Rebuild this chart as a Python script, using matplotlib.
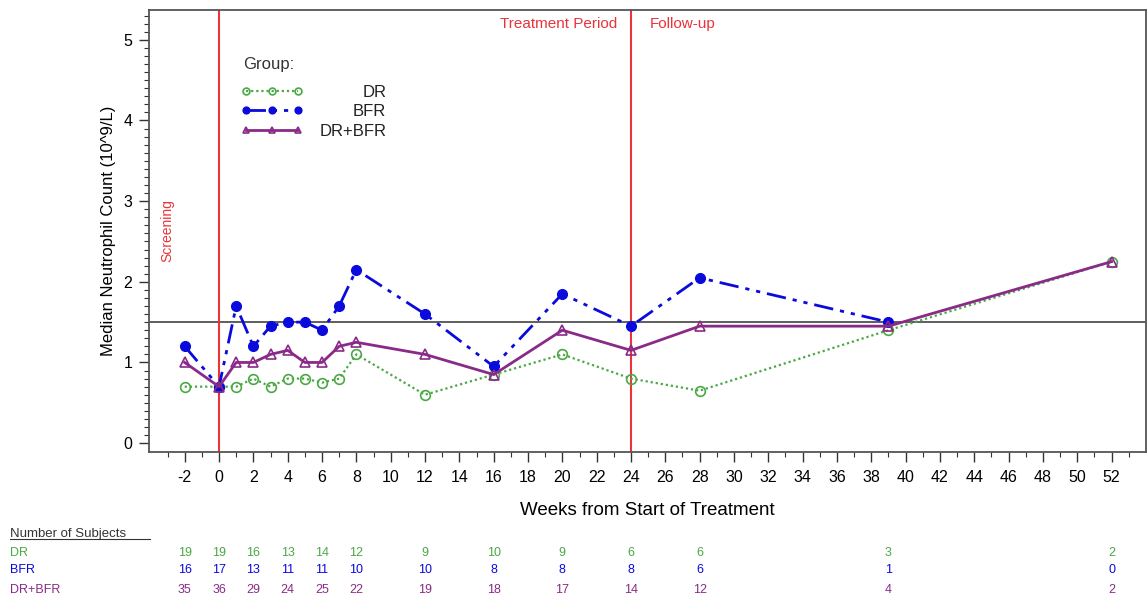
import matplotlib
matplotlib.use("Agg")
import matplotlib.pyplot as plt
import matplotlib.transforms as mtransforms
from matplotlib.lines import Line2D
import numpy as np

plt.rcParams['font.family'] = ['Liberation Sans', 'DejaVu Sans']
plt.rcParams['axes.unicode_minus'] = False

# Median neutrophil count per visit (10^9/L)
weeks = [-2, 0, 1, 2, 3, 4, 5, 6, 7, 8, 12, 16, 20, 24, 28, 39, 52]
dr = [0.7, 0.7, 0.7, 0.8, 0.7, 0.8, 0.8, 0.75, 0.8, 1.1, 0.6, 0.85, 1.1, 0.8, 0.65, 1.4, 2.25]
bfr = [1.2, 0.7, 1.7, 1.2, 1.45, 1.5, 1.5, 1.4, 1.7, 2.15, 1.6, 0.95, 1.85, 1.45, 2.05, 1.5, np.nan]
dr_bfr = [1.0, 0.7, 1.0, 1.0, 1.1, 1.15, 1.0, 1.0, 1.2, 1.25, 1.1, 0.85, 1.4, 1.15, 1.45, 1.45, 2.25]

# Number of subjects table
n_weeks = [-2, 0, 2, 4, 6, 8, 12, 16, 20, 24, 28, 39, 52]
n_dr = [19, 19, 16, 13, 14, 12, 9, 10, 9, 6, 6, 3, 2]
n_bfr = [16, 17, 13, 11, 11, 10, 10, 8, 8, 8, 6, 1, 0]
n_dr_bfr = [35, 36, 29, 24, 25, 22, 19, 18, 17, 14, 12, 4, 2]

c_dr = "#4aa845"
c_bfr = "#0a0adc"
c_both = "#8a2a88"
c_red = "#e8343a"

fig = plt.figure(figsize=(11.47, 5.99), dpi=100)
ax = fig.add_axes([0.1299, 0.2454, 0.8692, 0.738])

l1, = ax.plot(weeks, dr, color=c_dr, linestyle=(0, (1, 1.3)), linewidth=1.6,
              marker="o", markersize=7, mfc="none", mec=c_dr, mew=1.2, label="DR")
l2, = ax.plot(weeks, bfr, color=c_bfr, linestyle=(0, (7, 2.5, 1.5, 2.5, 1.5, 2.5)), linewidth=2,
              marker="o", markersize=7, mfc=c_bfr, mec=c_bfr, label="BFR")
l3, = ax.plot(weeks, dr_bfr, color=c_both, linestyle="-", linewidth=2,
              marker="^", markersize=7, mfc="none", mec=c_both, mew=1.2, label="DR+BFR")

ax.axhline(1.5, color="#333333", linewidth=1.1, zorder=1)
ax.axvline(0, color=c_red, linewidth=1.5, zorder=1)
ax.axvline(24, color=c_red, linewidth=1.5, zorder=1)

ax.text(23.2, 5.2, "Treatment Period", color=c_red, fontsize=11, ha="right", va="center")
ax.text(25.1, 5.2, "Follow-up", color=c_red, fontsize=11, ha="left", va="center")
ax.text(-3.0, 2.64, "Screening", color=c_red, fontsize=10, rotation=90, ha="center", va="center")

ax.set_xlim(-4.08, 54.0)
ax.set_ylim(-0.11, 5.37)
ax.set_xticks(range(-2, 53, 2))
ax.set_xticks(range(-3, 54, 1), minor=True)
ax.set_yticks(range(0, 6))
ax.set_yticks(np.arange(0, 5.35, 0.1), minor=True)
ax.tick_params(axis="both", which="major", length=7, width=1, labelsize=11.5, color="#333333")
ax.tick_params(axis="both", which="minor", length=3.5, width=0.8, color="#333333")
ax.tick_params(axis="x", which="major", pad=6)
ax.tick_params(axis="y", which="major", pad=5)
for s in ax.spines.values():
    s.set_color("#555555")
    s.set_linewidth(1.3)

ax.set_xlabel("Weeks from Start of Treatment", fontsize=13.5, labelpad=12)
ax.set_ylabel("Median Neutrophil Count (10^9/L)", fontsize=12, labelpad=5)

# legend: handles from matplotlib, labels right-aligned like the SAS output
ax.text(0.094, 0.894, "Group:", transform=ax.transAxes, fontsize=12, ha="left", va="top", color="#333333")
leg = ax.legend(handles=[l1, l2, l3], loc="upper left", bbox_to_anchor=(0.0923, 0.831),
                frameon=False, borderpad=0, borderaxespad=0, numpoints=3, markerscale=0.7,
                handlelength=3.7, handletextpad=1.0, labelspacing=0.28, fontsize=12)
fig.canvas.draw()
inv = fig.transFigure.inverted()
boxes = [t.get_window_extent() for t in leg.get_texts()]
right = max(b.x1 for b in boxes)
for t, b in zip(leg.get_texts(), boxes):
    fx, fy = inv.transform((right, (b.y0 + b.y1) / 2))
    fig.text(fx, fy, t.get_text(), fontsize=12, ha="right", va="center", color="#222222")
    t.set_visible(False)

# subject counts below the axis
trans = mtransforms.blended_transform_factory(ax.transData, fig.transFigure)
fig.text(0.009, 0.108, "Number of Subjects", fontsize=9.5, ha="left", va="center", color="#333333")
fig.add_artist(Line2D([0.009, 0.131], [0.0995, 0.0995], transform=fig.transFigure,
                      color="#333333", linewidth=0.8))
rows = [("DR", n_dr, c_dr, 0.076), ("BFR", n_bfr, c_bfr, 0.049), ("DR+BFR", n_dr_bfr, c_both, 0.015)]
for name, counts, col, yy in rows:
    fig.text(0.009, yy, name, fontsize=9, ha="left", va="center", color=col)
    for w, n in zip(n_weeks, counts):
        ax.text(w, yy, str(n), transform=trans, fontsize=9, ha="center", va="center",
                color=col, clip_on=False)

fig.savefig("out.png", dpi=100)
